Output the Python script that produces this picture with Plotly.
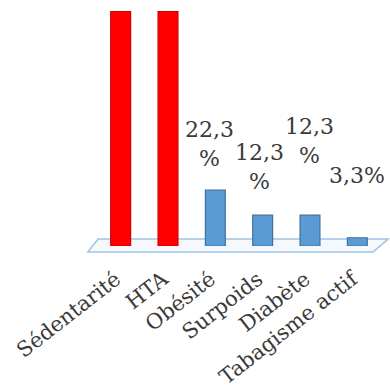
import plotly.graph_objects as go

categories = ["Sédentarité", "HTA", "Obésité", "Surpoids", "Diabète", "Tabagisme actif"]
values = [93.6, 93.6, 22.3, 12.3, 12.3, 3.3]
colors = ["#FF0000", "#FF0000", "#5B9BD5", "#5B9BD5", "#5B9BD5", "#5B9BD5"]
edge_colors = ["#D00000", "#D00000", "#41719C", "#41719C", "#41719C", "#41719C"]
label_texts = [None, None, "22,3<br>%", "12,3<br>%", "12,3<br>%", "3,3%"]
label_shift_y = [0, 0, 17, 19, 45, 48]
label_shift_x = [0, 0, -6, -3, -1, 0]

fig = go.Figure()
fig.add_trace(go.Bar(
    x=categories, y=values,
    marker=dict(color=colors, line=dict(color=edge_colors, width=1.2)),
    width=0.42,
))

font_family = "DejaVu Serif"
for c, v, t, sy, sx in zip(categories, values, label_texts, label_shift_y, label_shift_x):
    if t is None:
        continue
    fig.add_annotation(x=c, y=v, text=t, showarrow=False, yanchor="bottom",
                       xanchor="center", yshift=sy, xshift=sx,
                       font=dict(family=font_family, size=22, color="#3a3a3a"))

# floor plate
fig.add_shape(type="path", xref="paper", yref="paper", layer="below",
              path="M 0.0035,0.029 L 1.025,0.029 L 0.972,-0.025 L -0.032,-0.025 Z",
              fillcolor="rgba(235,244,252,0.5)", line=dict(color="#9DC3E6", width=1.5))

fig.update_layout(
    width=390, height=389,
    margin=dict(l=97, r=9, t=8, b=143, autoexpand=False),
    paper_bgcolor="white", plot_bgcolor="white",
    showlegend=False,
)
fig.update_xaxes(tickangle=-38, showline=False, showgrid=False, zeroline=False,
                 automargin=False,
                 ticks="", ticklabelstandoff=16, ticklabelshift=-5,
                 tickfont=dict(family=font_family, size=21, color="#3a3a3a"),
                 range=[-0.5, 5.5])
fig.update_yaxes(range=[0, 95], visible=False)

fig.write_html("out.html")
